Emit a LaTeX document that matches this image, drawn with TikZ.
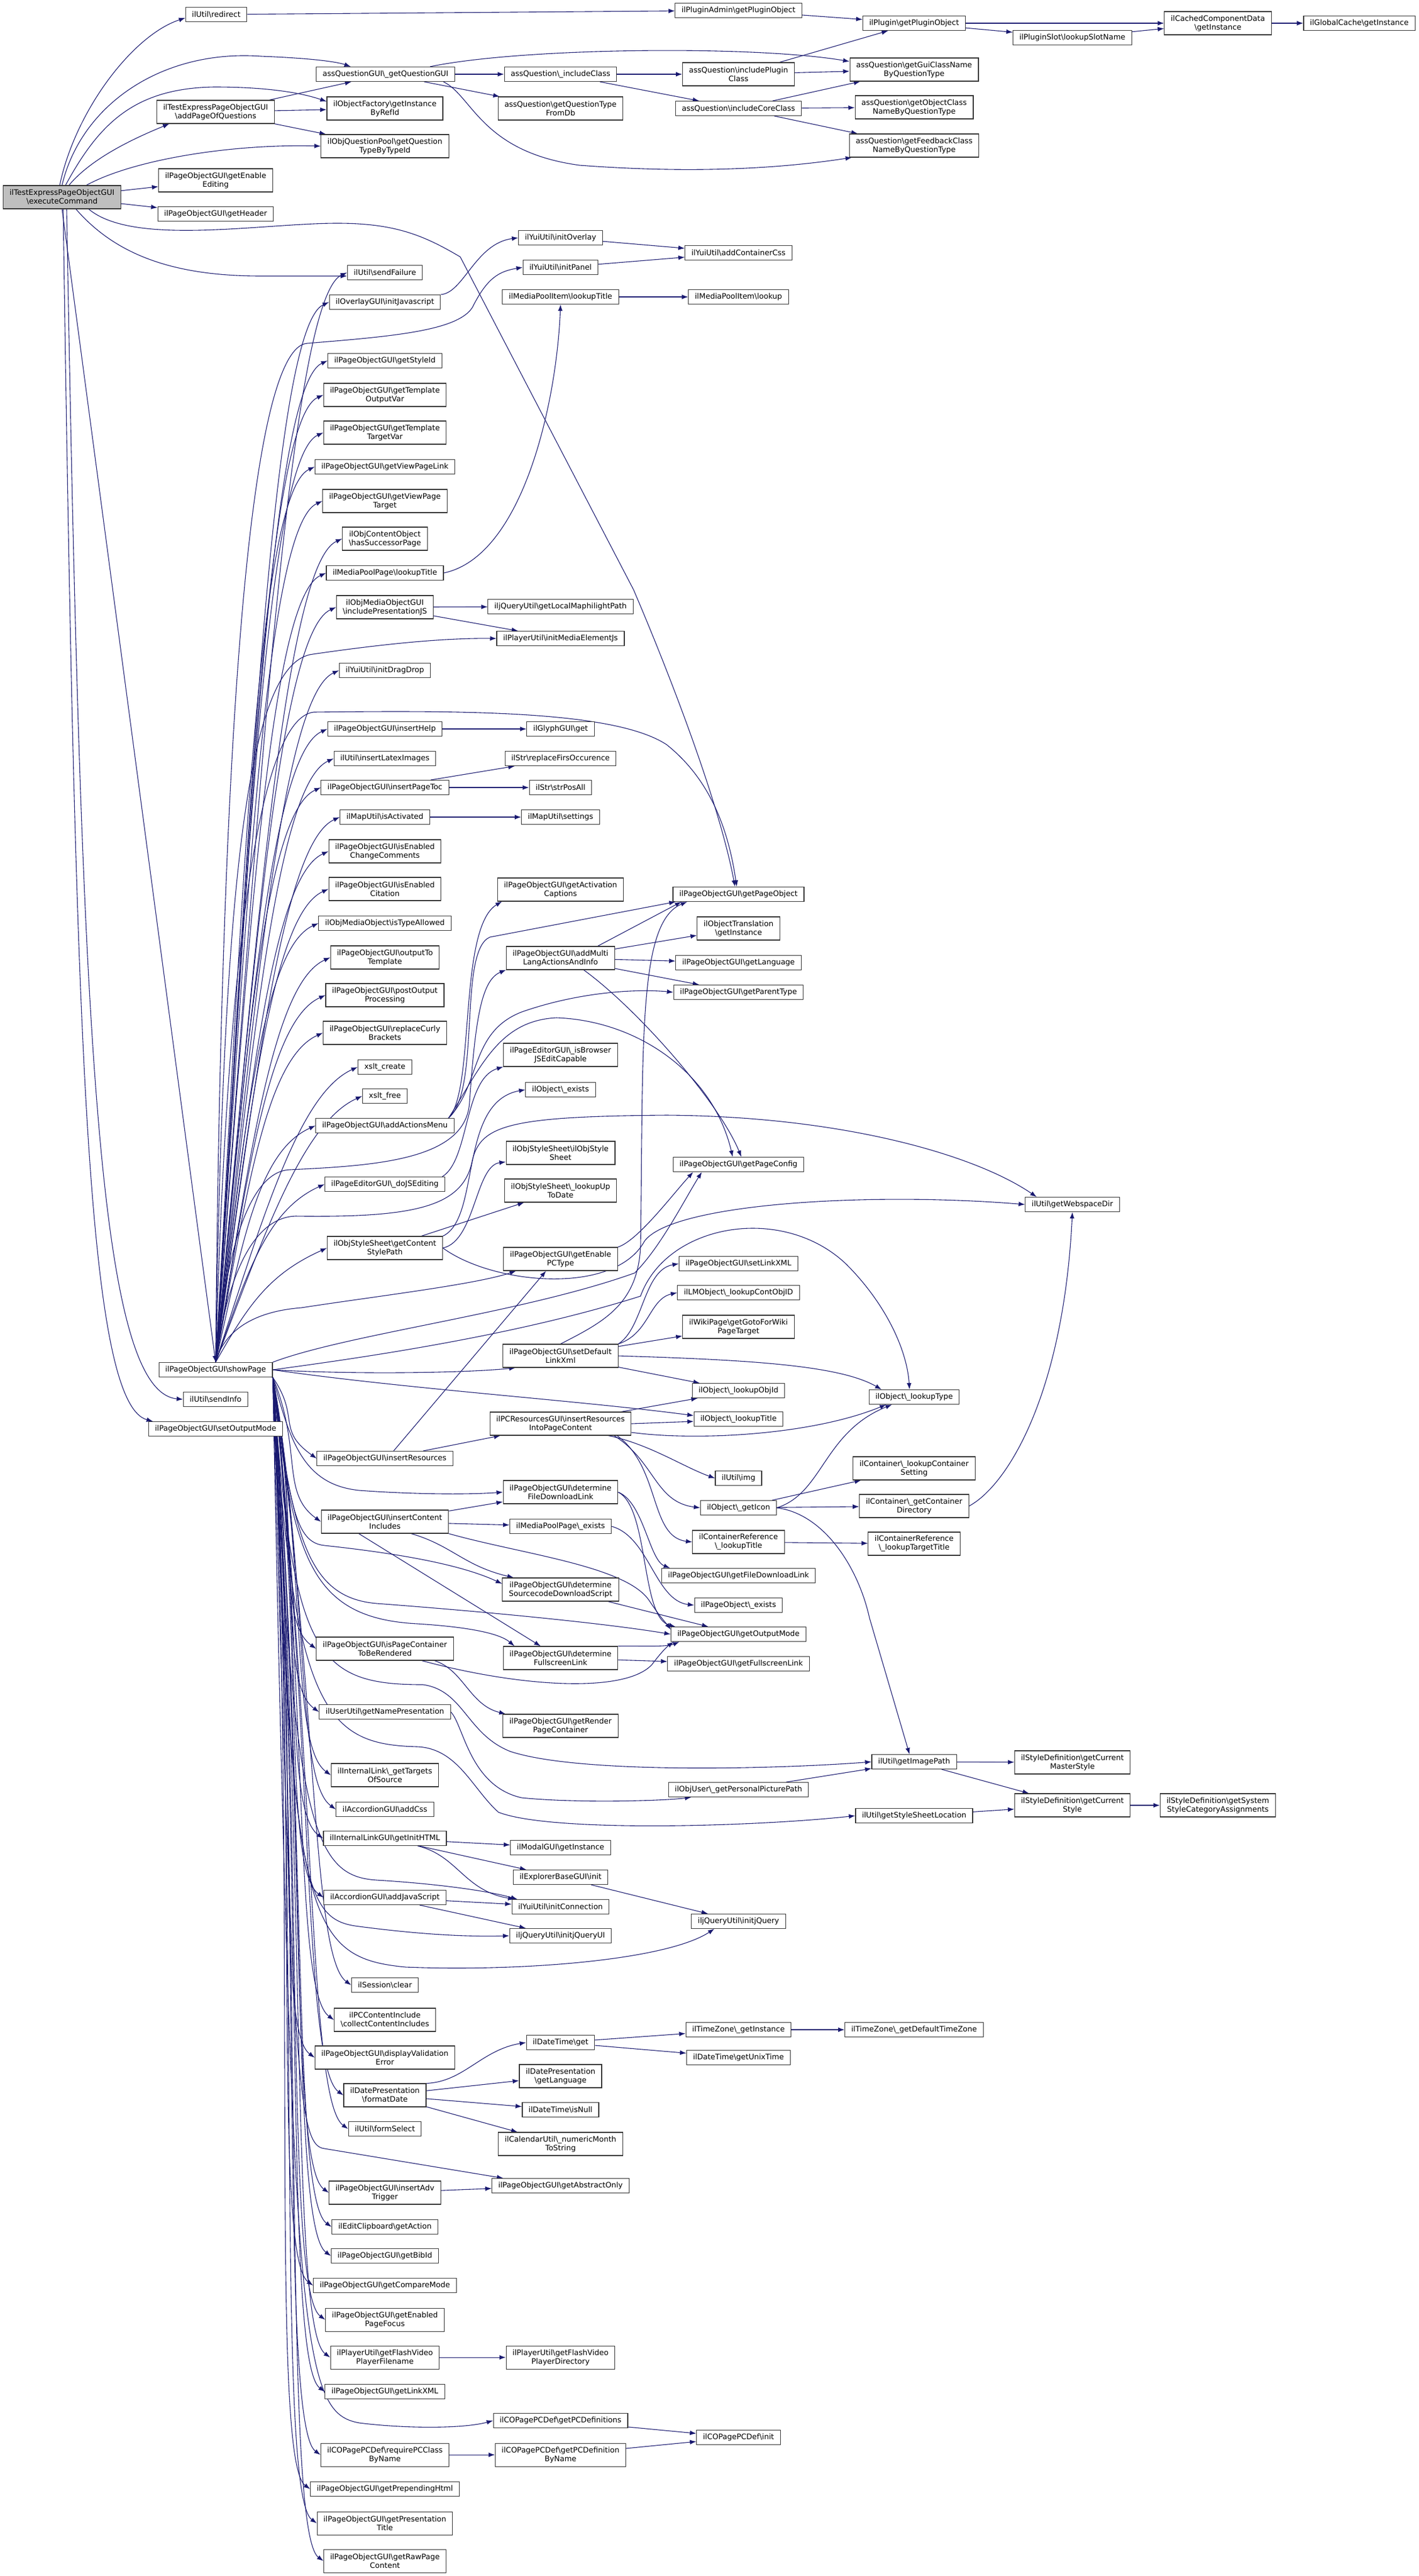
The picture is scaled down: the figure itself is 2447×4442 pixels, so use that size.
\documentclass[tikz,border=0pt]{standalone}
\usepackage{fontspec}
\setmainfont{DejaVu Sans}
\usetikzlibrary{positioning}
\usetikzlibrary{calc}
\usetikzlibrary{arrows.meta}
\definecolor{edgeblue}{RGB}{25,25,112}
\newcommand{\bsl}{\textbackslash}
\pgfdeclarelayer{paper}
\pgfdeclarelayer{wires}
\pgfsetlayers{paper,wires,main}

\begin{document}
\begin{tikzpicture}[x=1pt,y=-1pt]
\tikzstyle{fn}=[rectangle,draw=black!80,fill=white,line width=1.1pt,inner xsep=11pt,inner ysep=2pt,minimum height=25pt,align=center,font=\fontsize{13}{15}\selectfont]
\tikzstyle{fntwo}=[fn,minimum height=40pt]
\tikzstyle{startfn}=[fill=black!25]
\tikzstyle{call}=[draw=edgeblue,line width=1.1pt,-{Latex[length=11pt,width=8pt]}]
\tikzstyle{fanup}=[to path={.. controls ($(\tikztostart)!0.5!(\tikztotarget)+(-40,0)$) and ($(\tikztotarget)+(-100,45)$) .. (\tikztotarget) \tikztonodes}]
\tikzstyle{fandown}=[to path={.. controls ($(\tikztostart)!0.5!(\tikztotarget)+(10,0)$) and ($(\tikztotarget)+(-70,-50)$) .. (\tikztotarget) \tikztonodes}]

\useasboundingbox (0,0) rectangle (2447,4442);
\begin{pgfonlayer}{paper}
\fill[white] (0,0) rectangle (2447,4442);
\end{pgfonlayer}

% caller and first column
\node[fntwo,startfn] (root) at (107,340) {ilTestExpressPageObjectGUI\\\bsl executeCommand};
\node[fn] (redirect) at (373,25) {ilUtil\bsl redirect};
\node[fntwo] (addPage) at (372,193) {ilTestExpressPageObjectGUI\\\bsl addPageOfQuestions};
\node[fntwo] (editing) at (372,311) {ilPageObjectGUI\bsl getEnable\\Editing};
\node[fn] (header) at (372,369) {ilPageObjectGUI\bsl getHeader};
\node[fn] (showPage) at (372,2362) {ilPageObjectGUI\bsl showPage};
\node[fn] (sendInfo) at (372,2413) {ilUtil\bsl sendInfo};
\node[fn] (setOutput) at (372,2464) {ilPageObjectGUI\bsl setOutputMode};

% second column
\node[fn] (qgui) at (665,128) {assQuestionGUI\bsl\_getQuestionGUI};
\node[fntwo] (objFactory) at (664,187) {ilObjectFactory\bsl getInstance\\ByRefId};
\node[fntwo] (qpool) at (664,252) {ilObjQuestionPool\bsl getQuestion\\TypeByTypeId};
\node[fn] (sendFailure) at (664,470) {ilUtil\bsl sendFailure};
\node[fn] (overlayJS) at (664,521) {ilOverlayGUI\bsl initJavascript};
\node[fn] (styleId) at (664,622) {ilPageObjectGUI\bsl getStyleId};
\node[fntwo] (tplOut) at (664,681) {ilPageObjectGUI\bsl getTemplate\\OutputVar};
\node[fntwo] (tplTarget) at (664,746) {ilPageObjectGUI\bsl getTemplate\\TargetVar};
\node[fn] (viewLink) at (664,805) {ilPageObjectGUI\bsl getViewPageLink};
\node[fntwo] (viewTarget) at (664,864) {ilPageObjectGUI\bsl getViewPage\\Target};
\node[fntwo] (successor) at (664,929) {ilObjContentObject\\\bsl hasSuccessorPage};
\node[fn] (mppTitle) at (664,988) {ilMediaPoolPage\bsl lookupTitle};
\node[fntwo] (presJS) at (664,1047) {ilObjMediaObjectGUI\\\bsl includePresentationJS};
\node[fn] (dragDrop) at (664,1156) {ilYuiUtil\bsl initDragDrop};
\node[fn] (insHelp) at (664,1257) {ilPageObjectGUI\bsl insertHelp};
\node[fn] (latex) at (664,1308) {ilUtil\bsl insertLatexImages};
\node[fn] (pageToc) at (664,1358) {ilPageObjectGUI\bsl insertPageToc};
\node[fn] (mapActive) at (664,1409) {ilMapUtil\bsl isActivated};
\node[fntwo] (changeComm) at (664,1468) {ilPageObjectGUI\bsl isEnabled\\ChangeComments};
\node[fntwo] (citation) at (664,1533) {ilPageObjectGUI\bsl isEnabled\\Citation};
\node[fn] (typeAllowed) at (664,1592) {ilObjMediaObject\bsl isTypeAllowed};
\node[fntwo] (outTpl) at (664,1651) {ilPageObjectGUI\bsl outputTo\\Template};
\node[fntwo] (postOut) at (664,1716) {ilPageObjectGUI\bsl postOutput\\Processing};
\node[fntwo] (curly) at (664,1781) {ilPageObjectGUI\bsl replaceCurly\\Brackets};
\node[fn] (xsltCreate) at (664,1840) {xslt\_create};
\node[fn] (xsltFree) at (664,1890) {xslt\_free};
\node[fn] (actionsMenu) at (664,1941) {ilPageObjectGUI\bsl addActionsMenu};
\node[fn] (doJS) at (664,2042) {ilPageEditorGUI\bsl\_doJSEditing};
\node[fntwo] (contentStyle) at (664,2152) {ilObjStyleSheet\bsl getContent\\StylePath};
\node[fn] (insRes) at (664,2515) {ilPageObjectGUI\bsl insertResources};
\node[fntwo] (contIncl) at (664,2624) {ilPageObjectGUI\bsl insertContent\\Includes};
\node[fntwo] (pcRender) at (664,2843) {ilPageObjectGUI\bsl isPageContainer\\ToBeRendered};
\node[fn] (namePres) at (664,2952) {ilUserUtil\bsl getNamePresentation};
\node[fntwo] (targetsSrc) at (664,3061) {ilInternalLink\bsl\_getTargets\\OfSource};
\node[fn] (accCss) at (664,3120) {ilAccordionGUI\bsl addCss};
\node[fn] (initHTML) at (664,3170) {ilInternalLinkGUI\bsl getInitHTML};
\node[fn] (accJS) at (664,3272) {ilAccordionGUI\bsl addJavaScript};
\node[fn] (sessClear) at (664,3423) {ilSession\bsl clear};
\node[fntwo] (collectIncl) at (664,3483) {ilPCContentInclude\\\bsl collectContentIncludes};
\node[fntwo] (validErr) at (664,3548) {ilPageObjectGUI\bsl displayValidation\\Error};
\node[fntwo] (formatDate) at (664,3613) {ilDatePresentation\\\bsl formatDate};
\node[fn] (formSelect) at (664,3671) {ilUtil\bsl formSelect};
\node[fntwo] (advTrigger) at (664,3781) {ilPageObjectGUI\bsl insertAdv\\Trigger};
\node[fn] (clipAction) at (664,3840) {ilEditClipboard\bsl getAction};
\node[fn] (bibId) at (664,3890) {ilPageObjectGUI\bsl getBibId};
\node[fn] (compareMode) at (664,3941) {ilPageObjectGUI\bsl getCompareMode};
\node[fntwo] (pageFocus) at (664,4000) {ilPageObjectGUI\bsl getEnabled\\PageFocus};
\node[fntwo] (flashFile) at (664,4065) {ilPlayerUtil\bsl getFlashVideo\\PlayerFilename};
\node[fn] (linkXMLget) at (664,4124) {ilPageObjectGUI\bsl getLinkXML};
\node[fntwo] (reqPC) at (664,4233) {ilCOPagePCDef\bsl requirePCClass\\ByName};
\node[fn] (prepHtml) at (664,4292) {ilPageObjectGUI\bsl getPrependingHtml};
\node[fntwo] (presTitle) at (664,4351) {ilPageObjectGUI\bsl getPresentation\\Title};
\node[fntwo] (rawContent) at (664,4416) {ilPageObjectGUI\bsl getRawPage\\Content};

% third column
\node[fn] (inclClass) at (967,128) {assQuestion\bsl\_includeClass};
\node[fntwo] (typeFromDb) at (967,187) {assQuestion\bsl getQuestionType\\FromDb};
\node[fn] (yuiOverlay) at (967,410) {ilYuiUtil\bsl initOverlay};
\node[fn] (yuiPanel) at (967,461) {ilYuiUtil\bsl initPanel};
\node[fn] (mpiTitle) at (967,512) {ilMediaPoolItem\bsl lookupTitle};
\node[fn] (maphilight) at (967,1046) {iljQueryUtil\bsl getLocalMaphilightPath};
\node[fn] (mediaElem) at (967,1101) {ilPlayerUtil\bsl initMediaElementJs};
\node[fn] (glyph) at (967,1257) {ilGlyphGUI\bsl get};
\node[fn] (replFirst) at (967,1308) {ilStr\bsl replaceFirsOccurence};
\node[fn] (strPos) at (967,1358) {ilStr\bsl strPosAll};
\node[fn] (mapSettings) at (967,1409) {ilMapUtil\bsl settings};
\node[fntwo] (actCaptions) at (967,1534) {ilPageObjectGUI\bsl getActivation\\Captions};
\node[fntwo] (multiLang) at (967,1652) {ilPageObjectGUI\bsl addMulti\\LangActionsAndInfo};
\node[fntwo] (browserJS) at (967,1819) {ilPageEditorGUI\bsl\_isBrowser\\JSEditCapable};
\node[fn] (objExists) at (967,1879) {ilObject\bsl\_exists};
\node[fntwo] (objStyle) at (967,1988) {ilObjStyleSheet\bsl ilObjStyle\\Sheet};
\node[fntwo] (upToDate) at (967,2053) {ilObjStyleSheet\bsl\_lookupUp\\ToDate};
\node[fntwo] (enablePC) at (967,2171) {ilPageObjectGUI\bsl getEnable\\PCType};
\node[fntwo] (defLink) at (967,2338) {ilPageObjectGUI\bsl setDefault\\LinkXml};
\node[fntwo] (resIntoPC) at (967,2455) {ilPCResourcesGUI\bsl insertResources\\IntoPageContent};
\node[fntwo] (detFile) at (967,2573) {ilPageObjectGUI\bsl determine\\FileDownloadLink};
\node[fn] (mpExists) at (967,2632) {ilMediaPoolPage\bsl\_exists};
\node[fntwo] (detSrc) at (967,2741) {ilPageObjectGUI\bsl determine\\SourcecodeDownloadScript};
\node[fntwo] (detFull) at (967,2859) {ilPageObjectGUI\bsl determine\\FullscreenLink};
\node[fntwo] (renderPC) at (967,2976) {ilPageObjectGUI\bsl getRender\\PageContainer};
\node[fn] (modal) at (967,3186) {ilModalGUI\bsl getInstance};
\node[fn] (explorer) at (967,3237) {ilExplorerBaseGUI\bsl init};
\node[fn] (yuiConn) at (967,3288) {ilYuiUtil\bsl initConnection};
\node[fn] (jqUI) at (967,3338) {iljQueryUtil\bsl initjQueryUI};
\node[fn] (dtGet) at (967,3522) {ilDateTime\bsl get};
\node[fntwo] (dpLang) at (967,3580) {ilDatePresentation\\\bsl getLanguage};
\node[fn] (dtNull) at (967,3638) {ilDateTime\bsl isNull};
\node[fntwo] (monthStr) at (967,3697) {ilCalendarUtil\bsl\_numericMonth\\ToString};
\node[fn] (abstract) at (967,3769) {ilPageObjectGUI\bsl getAbstractOnly};
\node[fntwo] (flashDir) at (967,4065) {ilPlayerUtil\bsl getFlashVideo\\PlayerDirectory};
\node[fn] (pcDefs) at (967,4174) {ilCOPagePCDef\bsl getPCDefinitions};
\node[fntwo] (pcDefByName) at (967,4233) {ilCOPagePCDef\bsl getPCDefinition\\ByName};

% fourth column
\node[fn] (pluginAdmin) at (1274,18) {ilPluginAdmin\bsl getPluginObject};
\node[fntwo] (inclPlugin) at (1274,128) {assQuestion\bsl includePlugin\\Class};
\node[fn] (inclCore) at (1274,187) {assQuestion\bsl includeCoreClass};
\node[fn] (contCss) at (1274,436) {ilYuiUtil\bsl addContainerCss};
\node[fn] (mpiLookup) at (1274,512) {ilMediaPoolItem\bsl lookup};
\node[fn] (pageObject) at (1274,1542) {ilPageObjectGUI\bsl getPageObject};
\node[fntwo] (objTrans) at (1274,1601) {ilObjectTranslation\\\bsl getInstance};
\node[fn] (getLang) at (1274,1660) {ilPageObjectGUI\bsl getLanguage};
\node[fn] (parentType) at (1274,1711) {ilPageObjectGUI\bsl getParentType};
\node[fn] (pageConfig) at (1274,2008) {ilPageObjectGUI\bsl getPageConfig};
\node[fn] (setLink) at (1274,2179) {ilPageObjectGUI\bsl setLinkXML};
\node[fn] (contObjId) at (1274,2229) {ilLMObject\bsl\_lookupContObjID};
\node[fntwo] (wikiGoto) at (1274,2288) {ilWikiPage\bsl getGotoForWiki\\PageTarget};
\node[fn] (lookupObjId) at (1274,2398) {ilObject\bsl\_lookupObjId};
\node[fn] (lookupTitle) at (1274,2447) {ilObject\bsl\_lookupTitle};
\node[fn] (utilImg) at (1274,2549) {ilUtil\bsl img};
\node[fn] (getIcon) at (1274,2600) {ilObject\bsl\_getIcon};
\node[fntwo] (refTitle) at (1274,2659) {ilContainerReference\\\bsl\_lookupTitle};
\node[fn] (fileDL) at (1274,2717) {ilPageObjectGUI\bsl getFileDownloadLink};
\node[fn] (pageExists) at (1274,2768) {ilPageObject\bsl\_exists};
\node[fn] (outputMode) at (1274,2818) {ilPageObjectGUI\bsl getOutputMode};
\node[fn] (fullLink) at (1274,2869) {ilPageObjectGUI\bsl getFullscreenLink};
\node[fn] (persPic) at (1274,3086) {ilObjUser\bsl\_getPersonalPicturePath};
\node[fn] (initjQ) at (1274,3313) {iljQueryUtil\bsl initjQuery};
\node[fn] (tzInst) at (1274,3500) {ilTimeZone\bsl\_getInstance};
\node[fn] (unixTime) at (1274,3548) {ilDateTime\bsl getUnixTime};
\node[fn] (pcInit) at (1274,4203) {ilCOPagePCDef\bsl init};

% fifth column and beyond
\node[fn] (plugin) at (1577,40) {ilPlugin\bsl getPluginObject};
\node[fntwo] (guiClass) at (1577,120) {assQuestion\bsl getGuiClassName\\ByQuestionType};
\node[fntwo] (objClass) at (1577,185) {assQuestion\bsl getObjectClass\\NameByQuestionType};
\node[fntwo] (fbClass) at (1577,251) {assQuestion\bsl getFeedbackClass\\NameByQuestionType};
\node[fn] (lookupType) at (1577,2409) {ilObject\bsl\_lookupType};
\node[fntwo] (contSetting) at (1577,2532) {ilContainer\bsl\_lookupContainer\\Setting};
\node[fntwo] (contDir) at (1577,2597) {ilContainer\bsl\_getContainer\\Directory};
\node[fntwo] (targetTitle) at (1577,2662) {ilContainerReference\\\bsl\_lookupTargetTitle};
\node[fn] (imagePath) at (1577,3038) {ilUtil\bsl getImagePath};
\node[fn] (sheetLoc) at (1577,3131) {ilUtil\bsl getStyleSheetLocation};
\node[fn] (defaultTZ) at (1577,3500) {ilTimeZone\bsl\_getDefaultTimeZone};
\node[fn] (slotName) at (1850,65) {ilPluginSlot\bsl lookupSlotName};
\node[fn] (webspace) at (1850,2077) {ilUtil\bsl getWebspaceDir};
\node[fntwo] (masterStyle) at (1850,3039) {ilStyleDefinition\bsl getCurrent\\MasterStyle};
\node[fntwo] (curStyle) at (1850,3113) {ilStyleDefinition\bsl getCurrent\\Style};
\node[fntwo] (cached) at (2101,40) {ilCachedComponentData\\\bsl getInstance};
\node[fntwo] (sysStyle) at (2101,3113) {ilStyleDefinition\bsl getSystem\\StyleCategoryAssignments};
\node[fn] (globalCache) at (2345,40) {ilGlobalCache\bsl getInstance};

\begin{pgfonlayer}{wires}
% executeCommand
\draw[call] ($(root.north)+(-4,0)$) .. controls (130,190) and (230,60) .. ($(redirect.west)+(0,6)$);
\draw[call] (root.north) .. controls (140,180) and (280,85) .. (450,97) .. controls (530,100) and (580,106) .. ($(qgui.north west)+(60,0)$);
\draw[call] ($(root.north)+(6,0)$) .. controls (170,215) and (230,152) .. (370,150) .. controls (460,150) and (520,160) .. ($(objFactory.west)+(0,-12)$);
\draw[call] ($(root.north)+(12,0)$) .. controls (160,270) and (240,235) .. ($(addPage.south west)+(22,0)$);
\draw[call] ($(root.north east)+(-60,0)$) .. controls (230,275) and (400,248) .. (qpool.west);
\draw[call] (root) -- (editing);
\draw[call] (root) -- (header);
\draw[call] ($(root.south)+(46,0)$) .. controls (230,425) and (450,385) .. (582,385) .. controls (680,385) and (730,405) .. (794,443) -- (1093,1017) .. controls (1150,1150) and (1240,1380) .. ($(pageObject.north)+(-6,0)$);
\draw[call] ($(root.south)+(24,0)$) .. controls (200,440) and (300,476) .. (450,476) -- ($(sendFailure.west)+(0,6)$);
\draw[call] (root.south) -- (showPage.north);
\draw[call] ($(root.south)+(8,0)$) .. controls (140,1800) and (170,2400) .. (sendInfo.west);
\draw[call] ($(root.south)+(2,0)$) .. controls (130,1800) and (150,2420) .. ($(setOutput.north west)+(8,0)$);

% question part
\draw[call] (addPage) -- (qgui);
\draw[call] (addPage) -- (objFactory);
\draw[call] (addPage) -- (qpool);
\draw[call] (qgui) -- (inclClass);
\draw[call] (qgui) -- (typeFromDb);
\draw[call] ($(qgui.north east)+(-43,0)$) .. controls (900,82) and (1300,78) .. ($(guiClass.west)+(0,-14)$);
\draw[call] ($(qgui.south east)+(-20,0)$) .. controls (815,165) and (830,262) .. (1000,285) .. controls (1200,300) and (1350,290) .. ($(fbClass.south west)+(5,0)$);
\draw[call] (inclClass) -- (inclPlugin);
\draw[call] (inclClass) -- (inclCore);
\draw[call] (inclPlugin) -- (plugin);
\draw[call] (inclPlugin) -- (guiClass);
\draw[call] (inclCore) -- (guiClass);
\draw[call] (inclCore) -- (objClass);
\draw[call] (inclCore) -- (fbClass);
\draw[call] (redirect) -- (pluginAdmin);
\draw[call] (pluginAdmin) -- (plugin);
\draw[call] (plugin) -- (slotName);
\draw[call] (plugin) -- (cached);
\draw[call] (slotName) -- (cached);
\draw[call] (cached) -- (globalCache);

% showPage, callees above it
\draw[call] (showPage.north) to[fanup] (sendFailure.west);
\draw[call] (showPage.north) to[fanup] (overlayJS.west);
\draw[call] (showPage.north) to[fanup] (styleId.west);
\draw[call] (showPage.north) to[fanup] (tplOut.west);
\draw[call] (showPage.north) to[fanup] (tplTarget.west);
\draw[call] (showPage.north) to[fanup] (viewLink.west);
\draw[call] (showPage.north) to[fanup] (viewTarget.west);
\draw[call] (showPage.north) to[fanup] (successor.west);
\draw[call] (showPage.north) to[fanup] (mppTitle.west);
\draw[call] (showPage.north) to[fanup] (presJS.west);
\draw[call] (showPage.north) to[fanup] (dragDrop.west);
\draw[call] (showPage.north) to[fanup] (insHelp.west);
\draw[call] (showPage.north) to[fanup] (latex.west);
\draw[call] (showPage.north) to[fanup] (pageToc.west);
\draw[call] (showPage.north) to[fanup] (mapActive.west);
\draw[call] (showPage.north) to[fanup] (changeComm.west);
\draw[call] (showPage.north) to[fanup] (citation.west);
\draw[call] (showPage.north) to[fanup] (typeAllowed.west);
\draw[call] (showPage.north) to[fanup] (outTpl.west);
\draw[call] (showPage.north) to[fanup] (postOut.west);
\draw[call] (showPage.north) to[fanup] (curly.west);
\draw[call] (showPage.north) to[fanup] (xsltCreate.west);
\draw[call] (showPage.north) to[fanup] (xsltFree.west);
\draw[call] (showPage.north) to[fanup] (actionsMenu.west);
\draw[call] (showPage.north) to[fanup] (doJS.west);
\draw[call] (showPage.north) to[fanup] (contentStyle.west);
\draw[call] (showPage.north) .. controls (380,1400) and (420,600) .. (530,592) .. controls (680,580) and (790,570) .. (815,530) .. controls (840,480) and (860,468) .. (yuiPanel.west);
\draw[call] (showPage.north) .. controls (385,1500) and (430,1140) .. (540,1128) .. controls (650,1112) and (760,1100) .. (mediaElem.west);
\draw[call] (showPage.north) .. controls (390,1700) and (440,1240) .. (541,1228) .. controls (800,1225) and (1060,1225) .. (1150,1284) .. controls (1220,1340) and (1255,1420) .. ($(pageObject.north)+(-3,0)$);
\draw[call] (showPage.north) .. controls (385,2200) and (420,2020) .. (500,2017) .. controls (650,2010) and (805,2000) .. (810,1900) .. controls (820,1760) and (830,1690) .. (multiLang.south west);
\draw[call] (showPage.north) .. controls (385,2250) and (420,2100) .. (510,2097) .. controls (720,2100) and (800,2080) .. (815,2000) .. controls (830,1940) and (880,1925) .. (1150,1923) .. controls (1450,1925) and (1680,1990) .. ($(webspace.north west)+(20,0)$);
\draw[call] (showPage.north) .. controls (385,2300) and (430,2262) .. (520,2255) .. controls (650,2235) and (820,2215) .. ($(enablePC.south west)+(22,0)$);
\draw[call] (showPage.north east) .. controls (600,2300) and (900,2265) .. (1095,2195) .. controls (1140,2150) and (1180,2070) .. ($(pageConfig.south west)+(50,0)$);
\draw[call] (showPage.east) .. controls (600,2370) and (800,2368) .. ($(defLink.south west)+(22,0)$);
\draw[call] (showPage.east) .. controls (650,2338) and (900,2300) .. (1105,2235) .. controls (1150,2110) and (1350,2075) .. (1460,2180) .. controls (1530,2250) and (1565,2330) .. ($(lookupType.north)+(-8,0)$);
\draw[call] (showPage.east) .. controls (700,2395) and (1000,2415) .. ($(lookupTitle.west)+(0,-6)$);

% showPage, callees below it
\draw[call] (showPage.south east) to[fandown] (insRes.west);
\draw[call] (showPage.south east) to[fandown] (contIncl.west);
\draw[call] (showPage.south east) to[fandown] (pcRender.west);
\draw[call] (showPage.south east) to[fandown] (namePres.west);
\draw[call] (showPage.south east) to[fandown] (targetsSrc.west);
\draw[call] (showPage.south east) to[fandown] (accCss.west);
\draw[call] (showPage.south east) to[fandown] (initHTML.west);
\draw[call] (showPage.south east) to[fandown] (accJS.west);
\draw[call] (showPage.south east) to[fandown] (sessClear.west);
\draw[call] (showPage.south east) to[fandown] (collectIncl.west);
\draw[call] (showPage.south east) to[fandown] (validErr.west);
\draw[call] (showPage.south east) to[fandown] (formatDate.west);
\draw[call] (showPage.south east) to[fandown] (formSelect.west);
\draw[call] (showPage.south east) to[fandown] (advTrigger.west);
\draw[call] (showPage.south east) to[fandown] (clipAction.west);
\draw[call] (showPage.south east) to[fandown] (bibId.west);
\draw[call] (showPage.south east) to[fandown] (compareMode.west);
\draw[call] (showPage.south east) to[fandown] (pageFocus.west);
\draw[call] (showPage.south east) to[fandown] (flashFile.west);
\draw[call] (showPage.south east) to[fandown] (linkXMLget.west);
\draw[call] (showPage.south east) to[fandown] (reqPC.west);
\draw[call] (showPage.south east) to[fandown] (prepHtml.west);
\draw[call] (showPage.south east) to[fandown] (presTitle.west);
\draw[call] (showPage.south east) to[fandown] (rawContent.west);
\draw[call] (showPage.south east) .. controls (500,2480) and (520,2560) .. (620,2570) .. controls (700,2576) and (800,2578) .. (detFile.west);
\draw[call] (showPage.south east) .. controls (500,2600) and (510,2660) .. (560,2665) .. controls (700,2680) and (800,2700) .. ($(detSrc.west)+(0,-10)$);
\draw[call] (showPage.south east) .. controls (505,2680) and (530,2790) .. (720,2800) .. controls (800,2805) and (860,2815) .. ($(detFull.north west)+(20,0)$);
\draw[call] (showPage.south east) .. controls (505,2650) and (530,2755) .. (650,2765) .. controls (850,2780) and (1050,2800) .. (outputMode.west);
\draw[call] (showPage.south east) .. controls (505,2850) and (540,2905) .. (730,2905) .. controls (800,2915) and (805,2990) .. (880,3020) .. controls (1000,3060) and (1350,3050) .. (imagePath.west);
\draw[call] (showPage.south east) .. controls (505,2950) and (560,3008) .. (720,3012) .. controls (790,3015) and (815,3085) .. (860,3125) .. controls (950,3160) and (1300,3150) .. (sheetLoc.west);
\draw[call] (showPage.south east) .. controls (505,3150) and (540,3235) .. (650,3242) .. controls (750,3248) and (840,3260) .. ($(yuiConn.north west)+(10,0)$);
\draw[call] (showPage.south east) .. controls (505,3250) and (520,3310) .. (620,3322) .. controls (720,3335) and (800,3340) .. (jqUI.west);
\draw[call] (showPage.south east) .. controls (505,3300) and (520,3375) .. (700,3392) .. controls (900,3400) and (1150,3380) .. ($(initjQ.south west)+(40,0)$);
\draw[call] (showPage.south east) .. controls (505,3600) and (515,3700) .. (560,3705) -- ($(abstract.north west)+(20,0)$);
\draw[call] (showPage.south east) .. controls (505,4050) and (520,4160) .. (620,4178) .. controls (700,4188) and (800,4188) .. (pcDefs.west);

% upper callees
\draw[call] (overlayJS.north east) .. controls (800,505) and (820,420) .. (yuiOverlay.west);
\draw[call] (yuiOverlay) -- (contCss);
\draw[call] (yuiPanel) -- (contCss);
\draw[call] (mpiTitle) -- (mpiLookup);
\draw[call] (mppTitle.east) .. controls (900,960) and (960,700) .. (mpiTitle.south);
\draw[call] (presJS) -- (maphilight);
\draw[call] (presJS) -- (mediaElem);
\draw[call] (insHelp) -- (glyph);
\draw[call] (pageToc) -- (replFirst);
\draw[call] (pageToc) -- (strPos);
\draw[call] (mapActive) -- (mapSettings);
\draw[call] ($(actionsMenu.north east)+(-10,0)$) .. controls (820,1880) and (790,1600) .. ($(actCaptions.south west)+(8,0)$);
\draw[call] ($(actionsMenu.north east)+(-10,0)$) .. controls (830,1880) and (790,1640) .. (845,1616) -- ($(pageObject.south west)+(5,0)$);
\draw[call] ($(actionsMenu.north east)+(-10,0)$) .. controls (830,1870) and (810,1780) .. (900,1745) .. controls (1000,1710) and (1100,1705) .. (parentType.west);
\draw[call] ($(actionsMenu.north east)+(-10,0)$) .. controls (830,1840) and (860,1760) .. (960,1755) .. controls (1100,1760) and (1230,1850) .. ($(pageConfig.north)+(-10,0)$);
\draw[call] ($(multiLang.north east)+(-30,0)$) -- ($(pageObject.south west)+(15,0)$);
\draw[call] (multiLang) -- (objTrans);
\draw[call] (multiLang) -- (getLang);
\draw[call] (multiLang) -- (parentType);
\draw[call] ($(multiLang.south)+(40,0)$) .. controls (1100,1740) and (1240,1900) .. ($(pageConfig.north)+(5,0)$);
\draw[call] ($(doJS.north east)+(-5,0)$) .. controls (810,2000) and (800,1860) .. (browserJS.south west);
\draw[call] (contentStyle.north east) .. controls (830,2100) and (790,1900) .. (objExists.west);
\draw[call] (contentStyle.east) .. controls (820,2140) and (820,2010) .. ($(objStyle.south west)+(0,-5)$);
\draw[call] (contentStyle) -- (upToDate);
\draw[call] (contentStyle.east) .. controls (850,2215) and (1060,2235) .. (1112,2140) .. controls (1160,2075) and (1500,2055) .. (webspace.west);
\draw[call] (enablePC.north east) .. controls (1100,2140) and (1160,2060) .. ($(pageConfig.south west)+(35,0)$);
\draw[call] (defLink.north) .. controls (1040,2280) and (1100,2250) .. (1105,2150) .. controls (1110,1800) and (1100,1590) .. ($(pageObject.south west)+(25,0)$);
\draw[call] (defLink.north east) .. controls (1110,2290) and (1110,2190) .. (setLink.west);
\draw[call] (defLink.north east) .. controls (1120,2300) and (1120,2240) .. (contObjId.west);
\draw[call] (defLink) -- (wikiGoto);
\draw[call] (defLink) -- (lookupObjId);
\draw[call] (defLink.east) .. controls (1300,2345) and (1450,2355) .. ($(lookupType.north west)+(22,0)$);

% resources and content includes
\draw[call] (insRes) -- (resIntoPC);
\draw[call] ($(insRes.north)+(15,0)$) -- ($(enablePC.south)+(-25,0)$);
\draw[call] ($(resIntoPC.north east)+(-18,0)$) -- ($(lookupObjId.south west)+(10,0)$);
\draw[call] (resIntoPC.east) -- ($(lookupTitle.west)+(0,4)$);
\draw[call] ($(resIntoPC.east)+(0,15)$) .. controls (1200,2485) and (1400,2475) .. ($(lookupType.south west)+(30,0)$);
\draw[call] ($(resIntoPC.south east)+(-40,0)$) .. controls (1120,2490) and (1180,2530) .. (utilImg.west);
\draw[call] ($(resIntoPC.south east)+(-30,0)$) .. controls (1130,2520) and (1130,2590) .. (getIcon.west);
\draw[call] ($(resIntoPC.south east)+(-25,0)$) .. controls (1140,2530) and (1120,2650) .. (refTitle.west);
\draw[call] (getIcon.east) .. controls (1420,2575) and (1420,2470) .. ($(lookupType.south west)+(40,0)$);
\draw[call] (getIcon) -- (contSetting);
\draw[call] (getIcon) -- (contDir);
\draw[call] (getIcon.east) .. controls (1420,2610) and (1480,2700) .. (1500,2790) -- ($(imagePath.north)+(-8,0)$);
\draw[call] (contDir.east) .. controls (1740,2560) and (1835,2400) .. (webspace.south);
\draw[call] (refTitle) -- (targetTitle);
\draw[call] (contIncl) -- (detFile);
\draw[call] (contIncl) -- (mpExists);
\draw[call] ($(contIncl.south east)+(-65,0)$) .. controls (780,2665) and (800,2700) .. ($(detSrc.north west)+(20,0)$);
\draw[call] ($(contIncl.south)+(-45,0)$) -- ($(detFull.north west)+(65,0)$);
\draw[call] (contIncl.south east) .. controls (900,2680) and (1080,2700) .. (1120,2760) .. controls (1140,2790) and (1150,2800) .. ($(outputMode.west)+(0,-8)$);
\draw[call] (detFile.east) .. controls (1110,2590) and (1120,2690) .. ($(fileDL.north west)+(15,0)$);
\draw[call] (detFile.east) .. controls (1120,2600) and (1105,2790) .. ($(outputMode.north west)+(8,0)$);
\draw[call] (mpExists.east) .. controls (1120,2650) and (1130,2760) .. (pageExists.west);
\draw[call] (detSrc) -- (outputMode);
\draw[call] (detFull) -- (fullLink);
\draw[call] (detFull.north east) .. controls (1120,2838) and (1150,2840) .. ($(outputMode.south west)+(15,0)$);
\draw[call] ($(pcRender.south east)+(-33,0)$) .. controls (800,2880) and (810,2940) .. ($(renderPC.north west)+(5,0)$);
\draw[call] ($(pcRender.south east)+(-55,0)$) .. controls (900,2910) and (1080,2920) .. (1125,2870) .. controls (1140,2850) and (1150,2840) .. ($(outputMode.south west)+(5,0)$);

% lower callees
\draw[call] (namePres.east) .. controls (800,2975) and (810,3080) .. (900,3100) .. controls (1000,3110) and (1150,3105) .. ($(persPic.south west)+(40,0)$);
\draw[call] (persPic) -- (imagePath);
\draw[call] (imagePath) -- (masterStyle);
\draw[call] (imagePath) -- (curStyle);
\draw[call] (sheetLoc) -- (curStyle);
\draw[call] (curStyle) -- (sysStyle);
\draw[call] (initHTML) -- (modal);
\draw[call] (initHTML) -- (explorer);
\draw[call] ($(initHTML.south east)+(-50,0)$) .. controls (790,3200) and (800,3260) .. ($(yuiConn.north west)+(5,0)$);
\draw[call] (accJS) -- (yuiConn);
\draw[call] (accJS) -- (jqUI);
\draw[call] (explorer) -- (initjQ);
\draw[call] (formatDate.north east) .. controls (800,3590) and (830,3535) .. (dtGet.west);
\draw[call] (formatDate) -- (dpLang);
\draw[call] (formatDate) -- (dtNull);
\draw[call] (formatDate) -- (monthStr);
\draw[call] (dtGet) -- (tzInst);
\draw[call] (dtGet) -- (unixTime);
\draw[call] (tzInst) -- (defaultTZ);
\draw[call] (advTrigger) -- (abstract);
\draw[call] (flashFile) -- (flashDir);
\draw[call] (reqPC) -- (pcDefByName);
\draw[call] (pcDefs) -- (pcInit);
\draw[call] (pcDefByName) -- (pcInit);
\end{pgfonlayer}
\end{tikzpicture}
\end{document}
